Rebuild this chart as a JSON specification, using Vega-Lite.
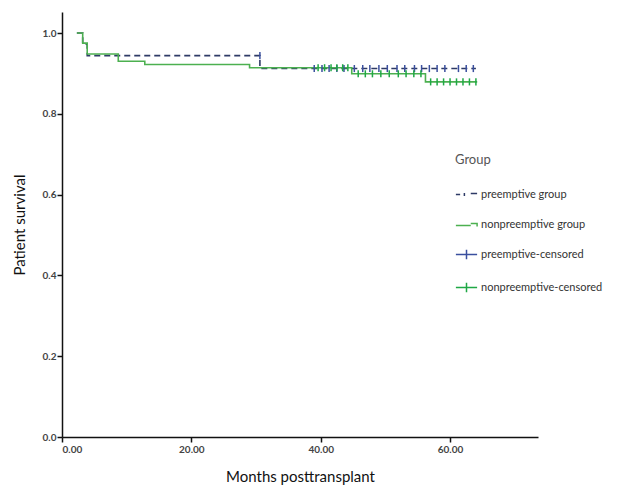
{
  "$schema": "https://vega.github.io/schema/vega-lite/v6.json",
  "autosize": "none",
  "width": 476,
  "height": 425,
  "padding": {"left": 62, "top": 12, "right": 81, "bottom": 53},
  "background": "white",
  "config": {"view": {"stroke": null}, "font": "Lato"},
  "datasets": {
    "curves": [
      {"group": "preemptive group", "month": 2.3, "surv": 1.0},
      {"group": "preemptive group", "month": 3.2, "surv": 0.972},
      {"group": "preemptive group", "month": 3.9, "surv": 0.944},
      {"group": "preemptive group", "month": 30.6, "surv": 0.912},
      {"group": "preemptive group", "month": 64.0, "surv": 0.912},
      {"group": "nonpreemptive group", "month": 2.3, "surv": 1.0},
      {"group": "nonpreemptive group", "month": 3.2, "surv": 0.975},
      {"group": "nonpreemptive group", "month": 3.9, "surv": 0.948},
      {"group": "nonpreemptive group", "month": 8.7, "surv": 0.93},
      {"group": "nonpreemptive group", "month": 12.8, "surv": 0.922},
      {"group": "nonpreemptive group", "month": 29.0, "surv": 0.914},
      {"group": "nonpreemptive group", "month": 44.8, "surv": 0.899},
      {"group": "nonpreemptive group", "month": 56.2, "surv": 0.879},
      {"group": "nonpreemptive group", "month": 64.2, "surv": 0.879}
    ],
    "censored": [
      {"group": "preemptive-censored", "month": 30.6, "surv": 0.944},
      {"group": "preemptive-censored", "month": 39.0, "surv": 0.912},
      {"group": "preemptive-censored", "month": 40.2, "surv": 0.912},
      {"group": "preemptive-censored", "month": 41.3, "surv": 0.912},
      {"group": "preemptive-censored", "month": 42.5, "surv": 0.912},
      {"group": "preemptive-censored", "month": 43.6, "surv": 0.912},
      {"group": "preemptive-censored", "month": 45.2, "surv": 0.912},
      {"group": "preemptive-censored", "month": 46.5, "surv": 0.912},
      {"group": "preemptive-censored", "month": 47.6, "surv": 0.912},
      {"group": "preemptive-censored", "month": 49.0, "surv": 0.912},
      {"group": "preemptive-censored", "month": 50.3, "surv": 0.912},
      {"group": "preemptive-censored", "month": 51.8, "surv": 0.912},
      {"group": "preemptive-censored", "month": 53.0, "surv": 0.912},
      {"group": "preemptive-censored", "month": 54.5, "surv": 0.912},
      {"group": "preemptive-censored", "month": 55.6, "surv": 0.912},
      {"group": "preemptive-censored", "month": 56.8, "surv": 0.912},
      {"group": "preemptive-censored", "month": 58.0, "surv": 0.912},
      {"group": "preemptive-censored", "month": 59.2, "surv": 0.912},
      {"group": "preemptive-censored", "month": 61.3, "surv": 0.912},
      {"group": "preemptive-censored", "month": 62.5, "surv": 0.912},
      {"group": "preemptive-censored", "month": 63.6, "surv": 0.912},
      {"group": "nonpreemptive-censored", "month": 39.6, "surv": 0.914},
      {"group": "nonpreemptive-censored", "month": 40.6, "surv": 0.914},
      {"group": "nonpreemptive-censored", "month": 41.6, "surv": 0.914},
      {"group": "nonpreemptive-censored", "month": 42.5, "surv": 0.914},
      {"group": "nonpreemptive-censored", "month": 43.4, "surv": 0.914},
      {"group": "nonpreemptive-censored", "month": 44.2, "surv": 0.914},
      {"group": "nonpreemptive-censored", "month": 45.8, "surv": 0.899},
      {"group": "nonpreemptive-censored", "month": 46.9, "surv": 0.899},
      {"group": "nonpreemptive-censored", "month": 48.0, "surv": 0.899},
      {"group": "nonpreemptive-censored", "month": 49.3, "surv": 0.899},
      {"group": "nonpreemptive-censored", "month": 50.6, "surv": 0.899},
      {"group": "nonpreemptive-censored", "month": 52.0, "surv": 0.899},
      {"group": "nonpreemptive-censored", "month": 53.2, "surv": 0.899},
      {"group": "nonpreemptive-censored", "month": 54.4, "surv": 0.899},
      {"group": "nonpreemptive-censored", "month": 55.5, "surv": 0.899},
      {"group": "nonpreemptive-censored", "month": 57.0, "surv": 0.879},
      {"group": "nonpreemptive-censored", "month": 58.0, "surv": 0.879},
      {"group": "nonpreemptive-censored", "month": 59.0, "surv": 0.879},
      {"group": "nonpreemptive-censored", "month": 60.0, "surv": 0.879},
      {"group": "nonpreemptive-censored", "month": 61.0, "surv": 0.879},
      {"group": "nonpreemptive-censored", "month": 62.0, "surv": 0.879},
      {"group": "nonpreemptive-censored", "month": 63.0, "surv": 0.879},
      {"group": "nonpreemptive-censored", "month": 64.0, "surv": 0.879}
    ]
  },
  "encoding": {
    "x": {
      "field": "month", "type": "quantitative",
      "scale": {"domain": [0, 73.6], "nice": false, "zero": false},
      "axis": {
        "title": "Months posttransplant", "values": [0, 20, 40, 60], "format": ".2f",
        "grid": false, "domainColor": "#111", "domainWidth": 1.5, "tickColor": "#111", "tickWidth": 1.5,
        "tickSize": 5, "labelFont": "Lato", "labelFontSize": 10, "labelFontWeight": "bold", "labelColor": "#444",
        "labelPadding": 2, "titleFont": "Lato", "titleFontSize": 15, "titleFontWeight": "normal",
        "titleColor": "#111", "titlePadding": 15
      }
    },
    "y": {
      "field": "surv", "type": "quantitative",
      "scale": {"domain": [0, 1.052], "nice": false},
      "axis": {
        "title": "Patient survival", "values": [0, 0.2, 0.4, 0.6, 0.8, 1.0], "format": ".1f",
        "grid": false, "domainColor": "#111", "domainWidth": 1.5, "tickColor": "#111", "tickWidth": 1.5,
        "tickSize": 5, "labelFont": "Lato", "labelFontSize": 10, "labelFontWeight": "bold", "labelColor": "#444",
        "labelPadding": 1, "titleFont": "Lato", "titleFontSize": 15, "titleFontWeight": "normal",
        "titleColor": "#111", "titlePadding": 15
      }
    },
    "color": {
      "field": "group", "type": "nominal",
      "scale": {
        "domain": ["preemptive group", "nonpreemptive group", "preemptive-censored", "nonpreemptive-censored"],
        "range": ["#2e3a66", "#4cb050", "#3a4f9e", "#1fa845"]
      },
      "legend": {
        "title": "Group", "orient": "none", "legendX": 393, "legendY": 142,
        "titleFont": "Lato", "titleFontSize": 13, "titleFontWeight": "normal", "titleColor": "#555",
        "titlePadding": 16,
        "labelFont": "Lato", "labelFontSize": 11, "labelColor": "#333", "labelOffset": 3,
        "symbolSize": 450, "symbolStrokeWidth": 1.5, "rowPadding": 13,
        "symbolType": "M-1,0H1M0,-0.5V0.5",
        "encode": {
          "symbols": {
            "update": {
              "shape": {"signal": "datum.value == 'preemptive group' ? 'M-1,0H-0.6M-0.2,-0.15V0.15M0.4,-0.1H1' : (datum.value == 'nonpreemptive group' ? 'M-1,0.1H0.4M0.4,-0.1H1V0.2' : 'M-1,0H1M0,-0.45V0.45')"},
              "fill": {"value": "transparent"}
            }
          }
        }
      }
    }
  },
  "layer": [
    {
      "data": {"name": "curves"},
      "mark": {"type": "line", "interpolate": "step-after", "strokeWidth": 1.6},
      "encoding": {
        "strokeDash": {
          "field": "group", "type": "nominal",
          "scale": {"domain": ["preemptive group", "nonpreemptive group"], "range": [[6, 4], [1, 0]]},
          "legend": null
        }
      }
    },
    {
      "data": {"name": "censored"},
      "mark": {"type": "point", "shape": "M0,-1V1", "size": 50, "strokeWidth": 1.5, "filled": false, "opacity": 1}
    }
  ]
}
